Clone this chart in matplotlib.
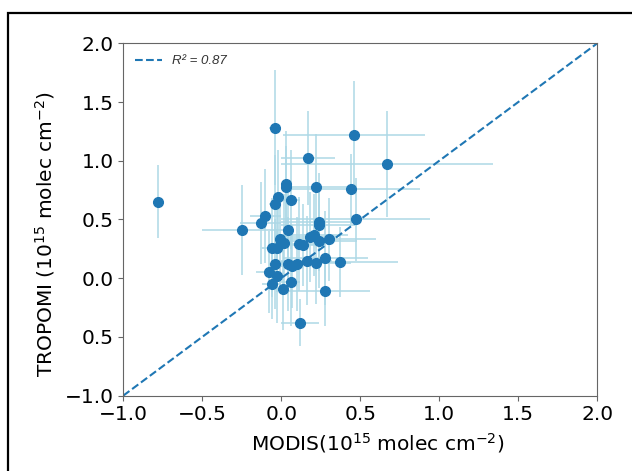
import matplotlib.pyplot as plt
from matplotlib.patches import Rectangle

# MODIS vs TROPOMI columns (10^15 molec cm^-2)
modis = [-0.78, -0.04, 0.46, 0.17, 0.67, 0.03, 0.03, 0.22, 0.44, -0.02, -0.04,
         0.06, -0.10, -0.13, -0.25, 0.24, 0.24, 0.47, 0.04, 0.18, 0.21, 0.24,
         0.30, -0.01, 0.02, -0.06, -0.03, 0.11, 0.14, -0.04, 0.04, 0.07, 0.10,
         0.16, 0.22, 0.28, 0.37, -0.08, -0.03, -0.06, 0.06, 0.01, 0.28, 0.12]
tropomi = [0.65, 1.28, 1.22, 1.02, 0.97, 0.80, 0.78, 0.78, 0.76, 0.69, 0.63,
           0.67, 0.53, 0.47, 0.41, 0.48, 0.45, 0.50, 0.41, 0.35, 0.37, 0.32,
           0.33, 0.33, 0.30, 0.26, 0.26, 0.29, 0.28, 0.12, 0.12, 0.10, 0.12,
           0.15, 0.13, 0.17, 0.14, 0.05, 0.02, -0.05, -0.03, -0.09, -0.11, -0.38]
modis_err = [0.0, 0.04, 0.45, 0.17, 0.67, 0.03, 0.03, 0.22, 0.44, 0.02, 0.04,
             0.06, 0.10, 0.13, 0.25, 0.24, 0.24, 0.47, 0.04, 0.18, 0.21, 0.24,
             0.30, 0.01, 0.02, 0.06, 0.03, 0.11, 0.14, 0.04, 0.04, 0.07, 0.10,
             0.16, 0.22, 0.27, 0.37, 0.08, 0.03, 0.06, 0.06, 0.01, 0.28, 0.12]
tropomi_err = [0.31, 0.49, 0.46, 0.40, 0.45, 0.45, 0.35, 0.45, 0.30, 0.40, 0.42,
               0.42, 0.40, 0.35, 0.38, 0.42, 0.30, 0.35, 0.40, 0.38, 0.35, 0.40,
               0.35, 0.40, 0.42, 0.42, 0.38, 0.40, 0.35, 0.38, 0.40, 0.35, 0.40,
               0.38, 0.35, 0.40, 0.30, 0.35, 0.40, 0.30, 0.38, 0.35, 0.30, 0.20]
r2_label = 'R² = 0.87'

yticks = [-1.0, -0.5, 0.0, 0.5, 1.0, 1.5, 2.0]
ytick_labels = ['\u22121.0', '0.5', '0.0', '0.5', '1.0', '1.5', '2.0']

fig = plt.figure(figsize=(6.32, 4.71), dpi=100)
ax = fig.add_axes([0.195, 0.16, 0.75, 0.748])

ax.errorbar(modis, tropomi, xerr=modis_err, yerr=tropomi_err, fmt='none',
            ecolor='lightblue', elinewidth=1.1, capsize=0, zorder=1)
ax.plot([-1, 2], [-1, 2], '--', color='#1f77b4', lw=1.5, label=r2_label, zorder=2)
ax.plot(modis, tropomi, 'o', color='#1f77b4', ms=7, zorder=3)

ax.set_xlim(-1, 2)
ax.set_ylim(-1, 2)
ax.set_yticks(yticks, ytick_labels)
ax.tick_params(labelsize=14.5, color='#666666')
for s in ax.spines.values():
    s.set_color('#666666')

ax.set_xlabel(r'MODIS$(10^{15}$ molec cm$^{-2}$)', fontsize=14.5)
ax.set_ylabel(r'TROPOMI (10$^{15}$ molec cm$^{-2}$)', fontsize=14.5)
ax.xaxis.set_label_coords(0.538, -0.1)
ax.yaxis.set_label_coords(-0.14, 0.46)

leg = ax.legend(loc='upper left', frameon=False,
                prop={'family': 'Liberation Sans', 'style': 'italic', 'size': 9.5})
for t in leg.get_texts():
    t.set_color('#333333')

# black frame around the figure (clipped at right and bottom)
fig.patches.append(Rectangle((0.013, -0.1), 1.2, 1.0724, transform=fig.transFigure,
                             fill=False, edgecolor='black', lw=1.6, clip_on=False))

fig.savefig('out.png', dpi=100)
